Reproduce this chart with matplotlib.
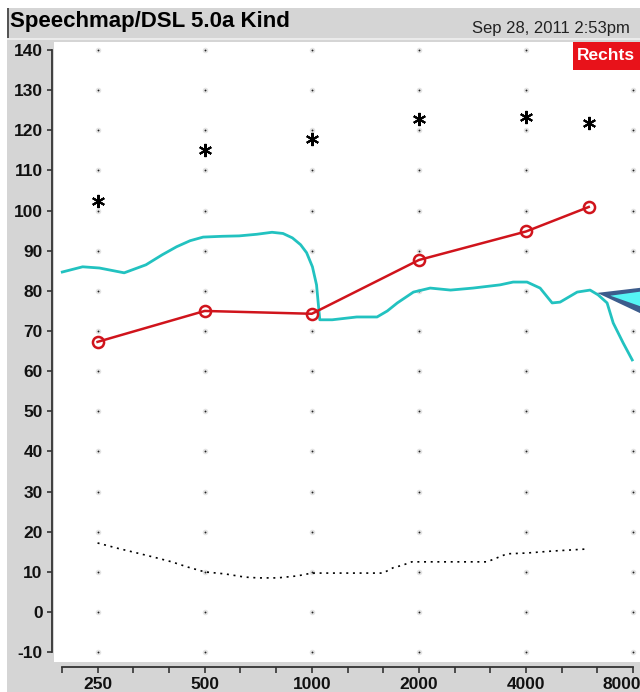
import matplotlib
matplotlib.use("Agg")
import matplotlib.pyplot as plt
from matplotlib.patches import Rectangle, Polygon
from matplotlib.ticker import FixedLocator, NullLocator, NullFormatter
from matplotlib.transforms import offset_copy
import numpy as np

plt.rcParams["axes.unicode_minus"] = False

# ---------------- data ----------------
title_text = "Speechmap/DSL 5.0a Kind"
date_text = "Sep 28, 2011 2:53pm"
ear_label = "Rechts"

point_freqs = [250, 500, 1000, 2000, 4000, 6000]
ucl_db = [102.5, 115.1, 117.9, 122.9, 123.3, 121.8]
target_db = [67.3, 75.0, 74.3, 87.7, 94.8, 100.9]

aided_freqs = [199, 227, 253, 297, 342, 380, 417, 455, 495, 560, 625, 700, 773, 830, 882,
               930, 967, 1004, 1031, 1053, 1141, 1337, 1525, 1630, 1739, 1930, 2151,
               2454, 2838, 3380, 3678, 4025, 4380, 4735, 4985, 5567, 6053, 6376, 6757,
               7030, 7500, 7950]
aided_db = [84.7, 86.0, 85.7, 84.5, 86.5, 89.0, 91.0, 92.5, 93.4, 93.6, 93.7, 94.1, 94.6,
            94.3, 93.2, 91.5, 89.5, 86.0, 81.5, 72.8, 72.8, 73.5, 73.5, 75.0, 77.0, 79.7,
            80.7, 80.2, 80.7, 81.5, 82.2, 82.2, 80.7, 77.0, 77.2, 79.7, 80.2, 79.0, 77.0,
            72.0, 67.0, 62.8]

thresh_freqs = [250, 284, 323, 366, 404, 448, 500, 570, 648, 705, 801, 911, 1000,
                1184, 1585, 1690, 1803, 1910, 2292, 3107, 3315, 3536, 4025, 4764, 5938]
thresh_db = [17.2, 15.9, 14.7, 13.5, 12.5, 11.2, 10.0, 9.5, 8.7, 8.5, 8.5, 9.0, 9.7,
             9.7, 9.7, 11.0, 11.7, 12.5, 12.5, 12.5, 13.5, 14.5, 14.7, 15.2, 15.7]

wedge_outer_freqs = [6337, 12270, 12270]
wedge_outer_db = [79.5, 82.5, 67.5]
wedge_inner_freqs = [6900, 12270, 12270]
wedge_inner_db = [78.8, 81.8, 71.0]

grid_freqs = [250, 500, 1000, 2000, 4000, 8000]
y_ticks = list(range(-10, 141, 10))
x_labels = ["250", "500", "1000", "2000", "4000", "8000"]
third_oct = [250 * 2 ** (k / 3) for k in range(-1, 16)]

# ---------------- figure ----------------
W, H = 640, 692
fig = plt.figure(figsize=(W / 100, H / 100), dpi=100)
fig.patch.set_facecolor("white")
gray = "#d5d5d5"
fig.add_artist(Rectangle((7 / W, 0), 1, (H - 8) / H, transform=fig.transFigure,
                         facecolor=gray, edgecolor="none", zorder=0))
fig.add_artist(Rectangle((7 / W, (H - 40) / H), 1, 2 / H, transform=fig.transFigure,
                         facecolor="#ebebeb", edgecolor="none", zorder=0))
fig.add_artist(Rectangle((7 / W, (H - 38) / H), 1.5 / W, 30 / H, transform=fig.transFigure,
                         facecolor="#555555", edgecolor="none", zorder=0))

fig.text(10 / W, 1 - 22 / H, title_text, fontsize=16, fontweight="bold",
         family="Liberation Sans", va="center", ha="left")
fig.text(630 / W, 1 - 28 / H, date_text, fontsize=12, family="Liberation Sans",
         va="center", ha="right", color="#222222")

ax = fig.add_axes([54 / W, (H - 662) / H, 1 - 54 / W, 620 / H])
ax.set_facecolor("white")
ax.set_xscale("log")
ax.set_xlim(188.6, 8360)
ax.set_ylim(-12.45, 142.0)

# grid dots
gx, gy = np.meshgrid(grid_freqs, y_ticks)
ax.scatter(gx.ravel(), gy.ravel(), s=16, color="#e4e4e4", zorder=1, linewidths=0)
ax.scatter(gx.ravel(), gy.ravel(), s=1.8, color="#222222", zorder=1.1, linewidths=0)

# wedge
ax.add_patch(Polygon(list(zip(wedge_outer_freqs, wedge_outer_db)), closed=True,
                     facecolor="#3c5c8c", edgecolor="none", zorder=3))
ax.add_patch(Polygon(list(zip(wedge_inner_freqs, wedge_inner_db)), closed=True,
                     facecolor="#55f5f5", edgecolor="none", zorder=3.1))

ax.plot(thresh_freqs, thresh_db, color="black", lw=1.2, dashes=(1.2, 2.8), zorder=2)
ax.plot(aided_freqs, aided_db, color="#22c2c0", lw=2.0, zorder=2.5,
        solid_joinstyle="round")
ax.plot(point_freqs, target_db, color="#d0141c", lw=1.8, marker="o", ms=8,
        mfc="none", mec="#d0141c", mew=1.8, zorder=4)
ax.plot(point_freqs, ucl_db, ls="none", marker=(6, 2, 0), ms=9.5, mew=1.5,
        color="black", zorder=4)

# Rechts label box (red)
fig.add_artist(Rectangle((573 / W, (H - 70) / H), 67 / W, 28 / H, transform=fig.transFigure,
                         facecolor="#e8121a", edgecolor="none", zorder=6))
fig.text(606 / W, 1 - 56 / H, ear_label, fontsize=12.5, fontweight="bold", color="white",
         family="Liberation Sans", ha="center", va="center", zorder=7)

# axes styling
for s in ["top", "right"]:
    ax.spines[s].set_visible(False)
axc = "#333333"
ax.spines["left"].set_position(("outward", 1.4))
ax.spines["left"].set_bounds(-10, 140)
ax.spines["left"].set_color(axc)
ax.spines["left"].set_linewidth(1.3)
ax.spines["bottom"].set_position(("outward", 3.6))
ax.spines["bottom"].set_bounds(third_oct[0], 8000)
ax.spines["bottom"].set_color(axc)
ax.spines["bottom"].set_linewidth(1.3)

ax.yaxis.set_major_locator(FixedLocator(y_ticks))
ax.yaxis.set_minor_locator(NullLocator())
ax.tick_params(axis="y", direction="out", length=3.6, width=1.2, color=axc, pad=3.2,
               labelsize=12.5)
ax.xaxis.set_major_locator(FixedLocator(grid_freqs))
ax.xaxis.set_major_formatter(plt.FixedFormatter(x_labels))
ax.xaxis.set_minor_locator(FixedLocator(third_oct))
ax.xaxis.set_minor_formatter(NullFormatter())
ax.tick_params(axis="x", which="both", direction="out", length=4.3, width=1.2,
               color=axc, pad=2.8, labelsize=12.5)
for lab in ax.get_xticklabels() + ax.get_yticklabels():
    lab.set_fontweight("bold")
    lab.set_family("Liberation Sans")
    lab.set_color("#111111")

# shift the last x label left so it stays inside the picture, as in the reference
fig.canvas.draw()
last = ax.get_xticklabels()[-1]
last.set_horizontalalignment("right")
last.set_transform(offset_copy(last.get_transform(), fig=fig, x=8, y=0, units="dots"))

fig.savefig("out.png", dpi=100, facecolor=fig.get_facecolor())
